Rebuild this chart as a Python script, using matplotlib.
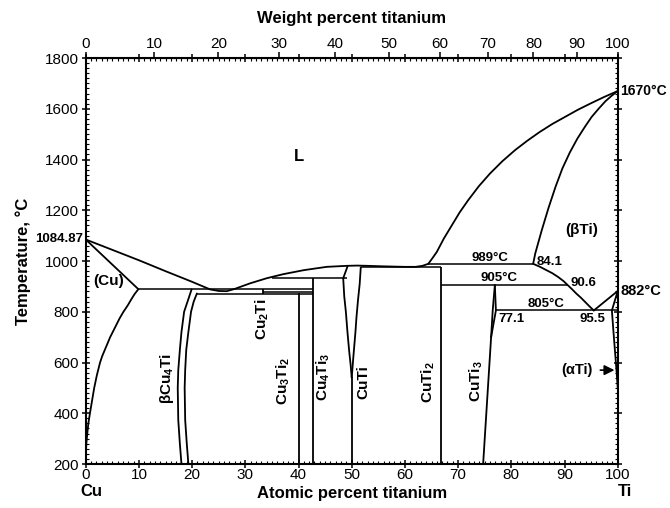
import numpy as np
import matplotlib
matplotlib.use("Agg")
import matplotlib.pyplot as plt
from matplotlib.ticker import MultipleLocator

plt.rcParams['font.family'] = ['Liberation Sans', 'DejaVu Sans']
plt.rcParams['mathtext.fontset'] = 'custom'
plt.rcParams['mathtext.rm'] = 'Liberation Sans:bold'
plt.rcParams['mathtext.it'] = 'Liberation Sans:bold'
plt.rcParams['mathtext.bf'] = 'Liberation Sans:bold'
plt.rcParams['mathtext.default'] = 'rm'

# ---- data (at.% Ti, temperature °C) ----
liq_cu_x = [0, 5, 10, 15, 20, 23.4, 25, 26.5, 28, 30.9, 34, 37.1, 41, 45.3, 49.1, 51, 53, 56, 60, 62, 63.3, 64.4]
liq_cu_t = [1084.87, 1044, 1003, 960, 918, 888, 882, 881, 890, 912, 932, 948, 964, 977, 981, 982, 981, 979, 977, 977, 981, 989]
sol_cu_x = [0, 9.9]
sol_cu_t = [1084.87, 889]
solv_cu_x = [9.9, 9.2, 8.6, 7.9, 7.1, 6.4, 5.8, 5.2, 4.6, 4.1, 3.6, 3.1, 2.7, 2.1, 1.6, 1.2, 0.8, 0.5, 0.3, 0.12, 0.03, 0]
solv_cu_t = [889, 870, 850, 825, 800, 775, 750, 725, 700, 675, 650, 625, 600, 550, 500, 450, 400, 360, 320, 280, 240, 200]
liq_ti_x = [64.4, 65.2, 66, 67.3, 68.8, 70.3, 71.9, 73.9, 76, 78.3, 80.7, 83, 85.3, 87.7, 90.1, 92.5, 95, 97.5, 100]
liq_ti_t = [989, 1012, 1036, 1088, 1140, 1192, 1240, 1295, 1345, 1393, 1437, 1474, 1508, 1540, 1568, 1596, 1622, 1647, 1670]
sol_ti_x = [84.1, 84.5, 85.7, 87, 88.3, 89.6, 91.0, 92.4, 93.8, 95.1, 96.4, 97.7, 98.9, 100]
sol_ti_t = [989, 1030, 1120, 1210, 1292, 1365, 1428, 1482, 1528, 1568, 1600, 1630, 1652, 1670]
transus_x = [84.1, 85.3, 86.5, 87.7, 88.8, 89.8, 90.6, 91.4, 92.2, 93.1, 93.9, 94.7, 95.5]
transus_t = [989, 978, 965, 952, 937, 921, 905, 889, 872, 855, 838, 821, 805]
vee_x = [95.5, 100]
vee_t = [805, 882]
alpha_x = [100, 98.9, 99.2, 99.5, 99.8, 100]
alpha_t = [882, 805, 720, 640, 560, 500]

b4_left_x = [19.9, 19.3, 18.5, 18.0, 17.7, 17.4, 17.3, 17.4, 17.7, 18.0]
b4_left_t = [888, 850, 800, 720, 650, 570, 500, 373, 280, 200]
b4_right_x = [20.9, 20.3, 19.8, 19.3, 18.9, 18.7, 18.6, 18.7, 19.0, 19.3]
b4_right_t = [872, 840, 800, 720, 650, 570, 500, 373, 280, 200]

cuti_left_x = [49.2, 48.4, 48.6, 48.9, 49.2, 49.5, 49.8, 50.0]
cuti_left_t = [978, 932, 860, 800, 720, 650, 590, 541]
cuti_right_x = [51.7, 51.5, 51.2, 50.9, 50.7, 50.5, 50.3, 50.0]
cuti_right_t = [975, 910, 850, 780, 720, 670, 620, 541]
cuti3_l_x = [76.9, 76.5, 76.2]
cuti3_l_t = [905, 805, 700]
cuti3_r_x = [76.9, 77.1, 76.2]
cuti3_r_t = [905, 805, 700]
cuti3_x = [76.2, 74.7]
cuti3_t = [700, 200]

# vertical lines: (x, t_bottom, t_top)
vert_x = [40.0, 42.8, 50.0, 66.7, 33.3]
vert_lo = [200, 200, 200, 200, 870]
vert_hi = [872, 932, 541, 978, 888]

# horizontal lines: (t, x_start, x_end)
hor_t = [888, 878, 870, 932, 976, 989, 905, 805]
hor_x0 = [9.9, 33.3, 20.9, 35.0, 51.7, 64.4, 66.7, 77.1]
hor_x1 = [42.8, 42.8, 42.8, 49.1, 66.7, 84.1, 90.6, 100.0]

wt_ticks = list(range(0, 101, 10))

M_TI, M_CU = 47.867, 63.546


def at2wt(a):
    a = np.clip(np.asarray(a, dtype=float), 0, 100)
    return 100 * a * M_TI / (a * M_TI + (100 - a) * M_CU)


def wt2at(w):
    w = np.clip(np.asarray(w, dtype=float), 0, 100)
    return 100 * (w / M_TI) / (w / M_TI + (100 - w) / M_CU)


fig = plt.figure(figsize=(6.70, 5.08), dpi=100)
ax = fig.add_axes([0.1279, 0.0866, 0.922 - 0.1279, 0.8858 - 0.0866])
ax.set_xlim(0, 100)
ax.set_ylim(200, 1800)

lw = 1.3
k = 'black'
for xs, ts in [(liq_cu_x, liq_cu_t), (sol_cu_x, sol_cu_t), (solv_cu_x, solv_cu_t),
               (liq_ti_x, liq_ti_t), (sol_ti_x, sol_ti_t), (transus_x, transus_t),
               (vee_x, vee_t), (alpha_x, alpha_t), (b4_left_x, b4_left_t),
               (b4_right_x, b4_right_t), (cuti_left_x, cuti_left_t),
               (cuti_right_x, cuti_right_t), (cuti3_l_x, cuti3_l_t),
               (cuti3_r_x, cuti3_r_t), (cuti3_x, cuti3_t)]:
    ax.plot(xs, ts, color=k, lw=lw, solid_capstyle='round', solid_joinstyle='round')
ax.vlines(vert_x, vert_lo, vert_hi, color=k, lw=lw)
ax.hlines(hor_t, hor_x0, hor_x1, color=k, lw=1.1)

for s in ax.spines.values():
    s.set_linewidth(1.5)

ax.xaxis.set_major_locator(MultipleLocator(10))
ax.xaxis.set_minor_locator(MultipleLocator(1))
ax.yaxis.set_major_locator(MultipleLocator(200))
ax.yaxis.set_minor_locator(MultipleLocator(20))
ax.tick_params(which='major', direction='inout', length=6, width=1.1,
               top=True, right=True, labelsize=11)
ax.tick_params(axis='x', which='major', pad=0)
ax.tick_params(axis='y', which='major', pad=2)
ax.tick_params(which='minor', direction='in', length=2.5, width=0.8,
               top=True, right=True)

sec = ax.secondary_xaxis('top', functions=(at2wt, wt2at))
sec.set_xticks(wt_ticks)
sec.tick_params(direction='out', length=4, width=1.1, labelsize=11, pad=1)
sec.set_xlabel('Weight percent titanium', fontsize=12, fontweight='bold', labelpad=10)

ax.set_xlabel('Atomic percent titanium', fontsize=12, fontweight='bold', labelpad=3)
ax.set_ylabel('Temperature, °C', fontsize=12, fontweight='bold', labelpad=10)

fb = dict(fontweight='bold', fontsize=9.5)
fr = dict(fontweight='bold', fontsize=11)
fig.text(91 / 670, 1 - 491 / 508, 'Cu', ha='center', va='center', fontsize=12, fontweight='bold')
fig.text(625 / 670, 1 - 492 / 508, 'Ti', ha='center', va='center', fontsize=12, fontweight='bold')

ax.text(40, 1410, 'L', ha='center', va='center', fontweight='bold', fontsize=12)
ax.text(93.2, 1122, '(βTi)', ha='center', va='center', **fr)
ax.text(4.3, 922, '(Cu)', ha='center', va='center', **fr)
ax.text(-0.4, 1084.87, '1084.87', ha='right', va='center', **fb)
ax.text(100.5, 1670, '1670°C', ha='left', va='center', fontweight='bold', fontsize=10)
ax.text(100.5, 882, '882°C', ha='left', va='center', fontweight='bold', fontsize=10.5)
ax.text(76.0, 1013, '989°C', ha='center', va='center', **fb)
ax.text(84.8, 997, '84.1', ha='left', va='center', **fb)
ax.text(77.6, 932, '905°C', ha='center', va='center', **fb)
ax.text(93.5, 912, '90.6', ha='center', va='center', **fb)
ax.text(86.5, 829, '805°C', ha='center', va='center', **fb)
ax.text(95.3, 770, '95.5', ha='center', va='center', **fb)
ax.text(80.1, 770, '77.1', ha='center', va='center', **fb)
ax.text(92.3, 570, '(αTi)', ha='center', va='center', fontweight='bold', fontsize=10.5)
ax.annotate('', xy=(99.9, 570), xytext=(96.2, 570),
            arrowprops=dict(arrowstyle='-|>', color=k, lw=1.2, mutation_scale=15))

rot = [('βCu$_4$Ti', 15.2, 535), ('Cu$_2$Ti', 33.1, 770), ('Cu$_3$Ti$_2$', 37.1, 528),
       ('Cu$_4$Ti$_3$', 44.7, 541), ('CuTi', 52.2, 522), ('CuTi$_2$', 64.4, 522),
       ('CuTi$_3$', 73.5, 528)]
for s, x, t in rot:
    ax.text(x, t, s, rotation=90, ha='center', va='center', **fr)

fig.savefig('out.png', dpi=100)
